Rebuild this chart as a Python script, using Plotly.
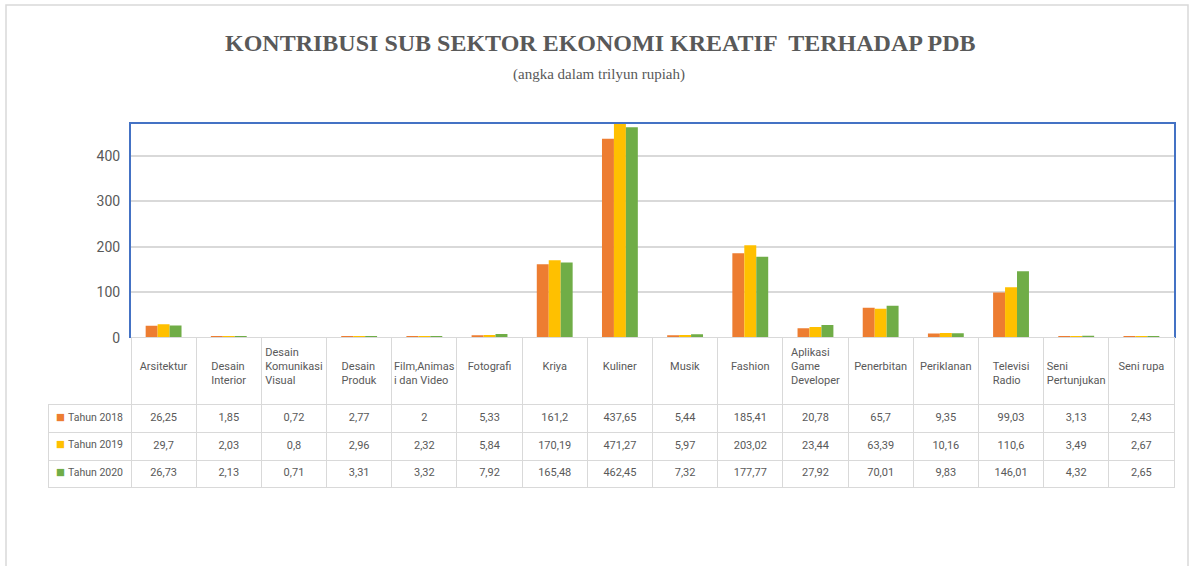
import plotly.graph_objects as go

categories = ["Arsitektur", "Desain Interior", "Desain Komunikasi Visual", "Desain Produk",
              "Film,Animasi dan Video", "Fotografi", "Kriya", "Kuliner", "Musik", "Fashion",
              "Aplikasi Game Developer", "Penerbitan", "Periklanan", "Televisi Radio",
              "Seni Pertunjukan", "Seni rupa"]
header_labels = ["Arsitektur", "Desain<br>Interior", "Desain<br>Komunikasi<br>Visual", "Desain<br>Produk",
                 "Film,Animas<br>i dan Video", "Fotografi", "Kriya", "Kuliner", "Musik", "Fashion",
                 "Aplikasi<br>Game<br>Developer", "Penerbitan", "Periklanan", "Televisi<br>Radio",
                 "Seni<br>Pertunjukan", "Seni rupa"]

series_names = ["Tahun 2018", "Tahun 2019", "Tahun 2020"]
tahun_2018 = [26.25, 1.85, 0.72, 2.77, 2, 5.33, 161.2, 437.65, 5.44, 185.41, 20.78, 65.7, 9.35, 99.03, 3.13, 2.43]
tahun_2019 = [29.7, 2.03, 0.8, 2.96, 2.32, 5.84, 170.19, 471.27, 5.97, 203.02, 23.44, 63.39, 10.16, 110.6, 3.49, 2.67]
tahun_2020 = [26.73, 2.13, 0.71, 3.31, 3.32, 7.92, 165.48, 462.45, 7.32, 177.77, 27.92, 70.01, 9.83, 146.01, 4.32, 2.65]
colors = ["#ED7D31", "#FFC000", "#70AD47"]
y_ticks = [0, 100, 200, 300, 400]

W, H = 1196, 566
series = [tahun_2018, tahun_2019, tahun_2020]
n = len(categories)

# pixel layout helpers
plot_l, plot_r, plot_t, plot_b = 131, 1174, 125.7, 342.5
tab_l, tab_b = 48, 505
col_w = (plot_r - plot_l) / n
head_h, row_h = 67, 27.7

fig = go.Figure()
for name, vals, c in zip(series_names, series, colors):
    fig.add_trace(go.Bar(x=categories, y=vals, name=name, marker=dict(color=c, line=dict(width=0)),
                         showlegend=False))

txt = "#595959"
sans = "Liberation Sans Narrow, Arial Narrow, Roboto, sans-serif"
NB = "\u00a0"
CLEAR = "rgba(0,0,0,0)"

def fmt(v):
    return f"{v:g}".replace(".", ",")

def pad(lbl):
    k = lbl.count("<br>") + 1
    return (NB + "<br>" if k < 3 else "") + lbl

legend_col = [nm.replace(" ", NB) for nm in series_names]
cell_values = [legend_col] + [[fmt(s[i]) for s in series] for i in range(n)]
header_vals = [""] + [pad(h) for h in header_labels]
tab_domain_y = [1 - tab_b / H, 1 - plot_b / H]

# data table
fig.add_trace(go.Table(
    domain=dict(x=[tab_l / W, plot_r / W], y=tab_domain_y),
    columnwidth=[plot_l - tab_l] + [col_w] * n,
    header=dict(values=header_vals, height=head_h, align="center",
                fill=dict(color=[CLEAR] + ["white"] * n),
                line=dict(color=[CLEAR] + ["#D9D9D9"] * n, width=1),
                font=dict(family=sans, size=11, color=txt)),
    cells=dict(values=cell_values, height=row_h, align=["right"] + ["center"] * n,
               fill=dict(color="white"),
               line=dict(color="#D9D9D9", width=1),
               font=dict(family=sans, size=[10.5] + [11] * n, color=txt)),
))

# legend keys (coloured squares) overlaid on the first table column
fig.add_trace(go.Table(
    domain=dict(x=[tab_l / W, (tab_l + 20) / W], y=tab_domain_y),
    header=dict(values=[""], height=head_h, fill=dict(color=CLEAR), line=dict(color=CLEAR)),
    cells=dict(values=[["■"] * len(colors)], height=row_h, align="left",
               fill=dict(color=CLEAR), line=dict(color=CLEAR),
               font=dict(family="DejaVu Sans", size=9.5, color=[colors])),
))

fig.update_layout(
    width=W, height=H,
    margin=dict(l=0, r=0, t=0, b=0),
    paper_bgcolor="white", plot_bgcolor="white",
    barmode="group", bargap=0.45, bargroupgap=0,
    xaxis=dict(domain=[plot_l / W, plot_r / W], side="top", showticklabels=False,
               showline=True, linecolor="#4472C4", linewidth=2, showgrid=False, ticks=""),
    yaxis=dict(domain=[1 - plot_b / H, 1 - plot_t / H], range=[0, 470], tickvals=y_ticks,
               showline=True, mirror=True, linecolor="#4472C4", linewidth=2,
               showgrid=True, gridcolor="#D9D9D9", gridwidth=1.5, zeroline=False,
               ticks="", ticklabelstandoff=6,
               tickfont=dict(family=sans, size=14, color=txt)),
    annotations=[
        dict(text="<b>KONTRIBUSI SUB SEKTOR EKONOMI KREATIF  TERHADAP PDB</b>", x=0.502, y=1 - 44 / H,
             xref="paper", yref="paper", showarrow=False, xanchor="center", yanchor="middle",
             font=dict(family="Liberation Serif, Times New Roman, serif", size=24, color=txt)),
        dict(text="(angka dalam trilyun rupiah)", x=0.501, y=1 - 76 / H,
             xref="paper", yref="paper", showarrow=False, xanchor="center", yanchor="middle",
             font=dict(family="Liberation Serif, Times New Roman, serif", size=15, color=txt)),
    ],
    shapes=[dict(type="rect", xref="paper", yref="paper", x0=6 / W, x1=1188 / W, y0=-0.05, y1=1 - 5 / H,
                 line=dict(color="#D9D9D9", width=1.5), layer="below")],
)

fig.write_html("out.html")
